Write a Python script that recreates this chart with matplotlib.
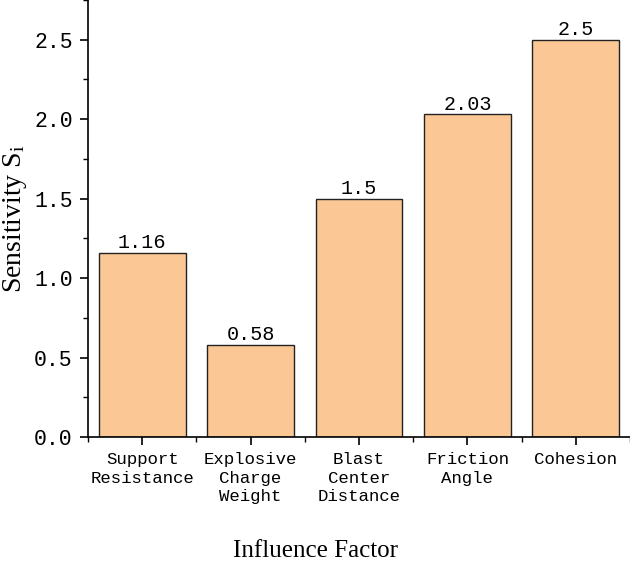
import numpy as np
import matplotlib
matplotlib.use("Agg")
import matplotlib.pyplot as plt
from matplotlib.ticker import MultipleLocator, FixedLocator

# Data
factors = ["Support\nResistance", "Explosive\nCharge\nWeight", "Blast\nCenter\nDistance",
           "Friction\nAngle", "Cohesion"]
sensitivity = [1.16, 0.58, 1.5, 2.03, 2.5]
value_labels = ["1.16", "0.58", "1.5", "2.03", "2.5"]

MONO = "Liberation Mono"
SERIF = "Liberation Serif"
plt.rcParams["mathtext.fontset"] = "custom"
plt.rcParams["mathtext.rm"] = SERIF

fig = plt.figure(figsize=(6.3, 5.61), dpi=100)
ax = fig.add_axes([0.1397, 0.221, 0.8603, 0.779])

x = np.arange(len(factors))
bars = ax.bar(x, sensitivity, width=0.8, color="#FBC895", edgecolor="#222222", linewidth=1.0)

for b, lab in zip(bars, value_labels):
    ax.text(b.get_x() + b.get_width() / 2, b.get_height() + 0.005, lab,
            ha="center", va="bottom", fontsize=14.5, family=MONO)

ax.set_xlim(-0.5, 4.5)
ax.set_ylim(0, 2.75)
ax.set_xticks(x)
ax.set_xticklabels(factors, fontsize=12.5, family=MONO, linespacing=1.3)
ax.xaxis.set_minor_locator(FixedLocator(np.arange(-0.5, 5, 1)))
ax.yaxis.set_major_locator(MultipleLocator(0.5))
ax.yaxis.set_minor_locator(MultipleLocator(0.25))
ax.set_yticklabels([f"{v:.1f}" for v in ax.get_yticks()], fontsize=15.5, family=MONO)

ax.tick_params(axis="both", which="major", direction="out", length=6, width=1.2, pad=5)
ax.tick_params(axis="both", which="minor", direction="out", length=3.5, width=1.0)
ax.spines["top"].set_visible(False)
ax.spines["right"].set_visible(False)
ax.spines["left"].set_linewidth(1.2)
ax.spines["bottom"].set_linewidth(1.2)

ax.set_ylabel(r"Sensitivity $\mathregular{S_i}$", fontsize=20, family=SERIF, labelpad=4)
ax.set_xlabel("Influence Factor", fontsize=18, family=SERIF, labelpad=24)
# x label sits at the centre of the figure, not of the axes
ax.xaxis.set_label_coords(0.419, -0.235)

fig.savefig("out.png", dpi=100)
